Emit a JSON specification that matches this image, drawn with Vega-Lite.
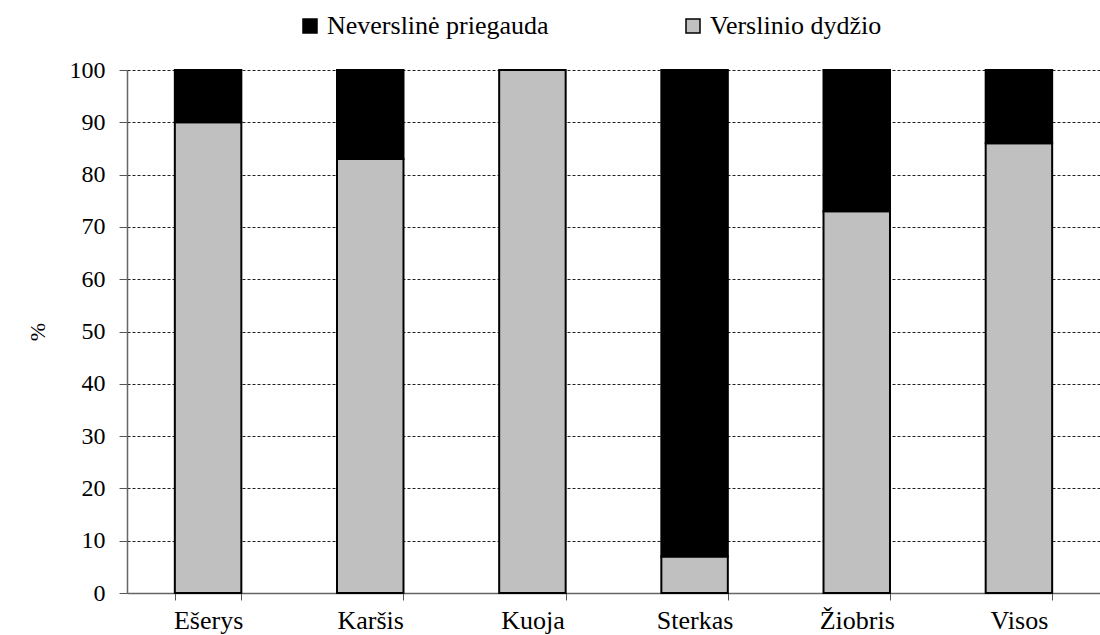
{
  "$schema": "https://vega.github.io/schema/vega-lite/v6.json",
  "width": 973,
  "height": 523,
  "autosize": {"type": "none"},
  "padding": {"left": 127, "top": 70, "right": 0, "bottom": 42},
  "background": "white",
  "config": {
    "font": "Liberation Serif",
    "view": {"stroke": null}
  },
  "data": {
    "values": [
      {"species": "Ešerys", "type": "Verslinio dydžio", "value": 90, "ord": 1},
      {"species": "Ešerys", "type": "Neverslinė priegauda", "value": 10, "ord": 2},
      {"species": "Karšis", "type": "Verslinio dydžio", "value": 83, "ord": 1},
      {"species": "Karšis", "type": "Neverslinė priegauda", "value": 17, "ord": 2},
      {"species": "Kuoja", "type": "Verslinio dydžio", "value": 100, "ord": 1},
      {"species": "Kuoja", "type": "Neverslinė priegauda", "value": 0, "ord": 2},
      {"species": "Sterkas", "type": "Verslinio dydžio", "value": 7, "ord": 1},
      {"species": "Sterkas", "type": "Neverslinė priegauda", "value": 93, "ord": 2},
      {"species": "Žiobris", "type": "Verslinio dydžio", "value": 73, "ord": 1},
      {"species": "Žiobris", "type": "Neverslinė priegauda", "value": 27, "ord": 2},
      {"species": "Visos", "type": "Verslinio dydžio", "value": 86, "ord": 1},
      {"species": "Visos", "type": "Neverslinė priegauda", "value": 14, "ord": 2}
    ]
  },
  "mark": {"type": "bar", "stroke": "black", "strokeWidth": 2},
  "encoding": {
    "x": {
      "field": "species",
      "type": "nominal",
      "sort": ["Ešerys", "Karšis", "Kuoja", "Sterkas", "Žiobris", "Visos"],
      "scale": {"paddingInner": 0.59, "paddingOuter": 0.295},
      "axis": {
        "title": null,
        "labelAngle": 0,
        "labelFontSize": 26,
        "labelColor": "black",
        "labelPadding": 7,
        "tickBand": "extent",
        "tickSize": 7,
        "tickColor": "#555",
        "domainColor": "#666",
        "domainWidth": 1.5
      }
    },
    "y": {
      "field": "value",
      "type": "quantitative",
      "stack": "zero",
      "scale": {"domain": [0, 100], "nice": false},
      "axis": {
        "title": "%",
        "titleFontSize": 22,
        "titleFontWeight": "normal",
        "titleColor": "black",
        "titlePadding": 20,
        "values": [0, 10, 20, 30, 40, 50, 60, 70, 80, 90, 100],
        "labelFontSize": 24,
        "labelColor": "black",
        "labelPadding": 14,
        "tickSize": 8,
        "tickColor": "#555",
        "domainColor": "#666",
        "domainWidth": 1.5,
        "grid": true,
        "gridColor": "#222",
        "gridDash": [3, 2],
        "gridWidth": 1
      }
    },
    "color": {
      "field": "type",
      "type": "nominal",
      "scale": {"domain": ["Neverslinė priegauda", "Verslinio dydžio"], "range": ["black", "#c0c0c0"]},
      "legend": {
        "title": null,
        "orient": "none",
        "legendX": 170,
        "legendY": -57,
        "direction": "horizontal",
        "columns": 2,
        "columnPadding": 131,
        "symbolType": "square",
        "symbolSize": 196,
        "symbolStrokeColor": "black",
        "symbolStrokeWidth": 1.5,
        "labelFontSize": 26,
        "labelLimit": 400,
        "labelColor": "black",
        "labelOffset": 4
      }
    },
    "order": {"field": "ord", "type": "quantitative"}
  }
}
